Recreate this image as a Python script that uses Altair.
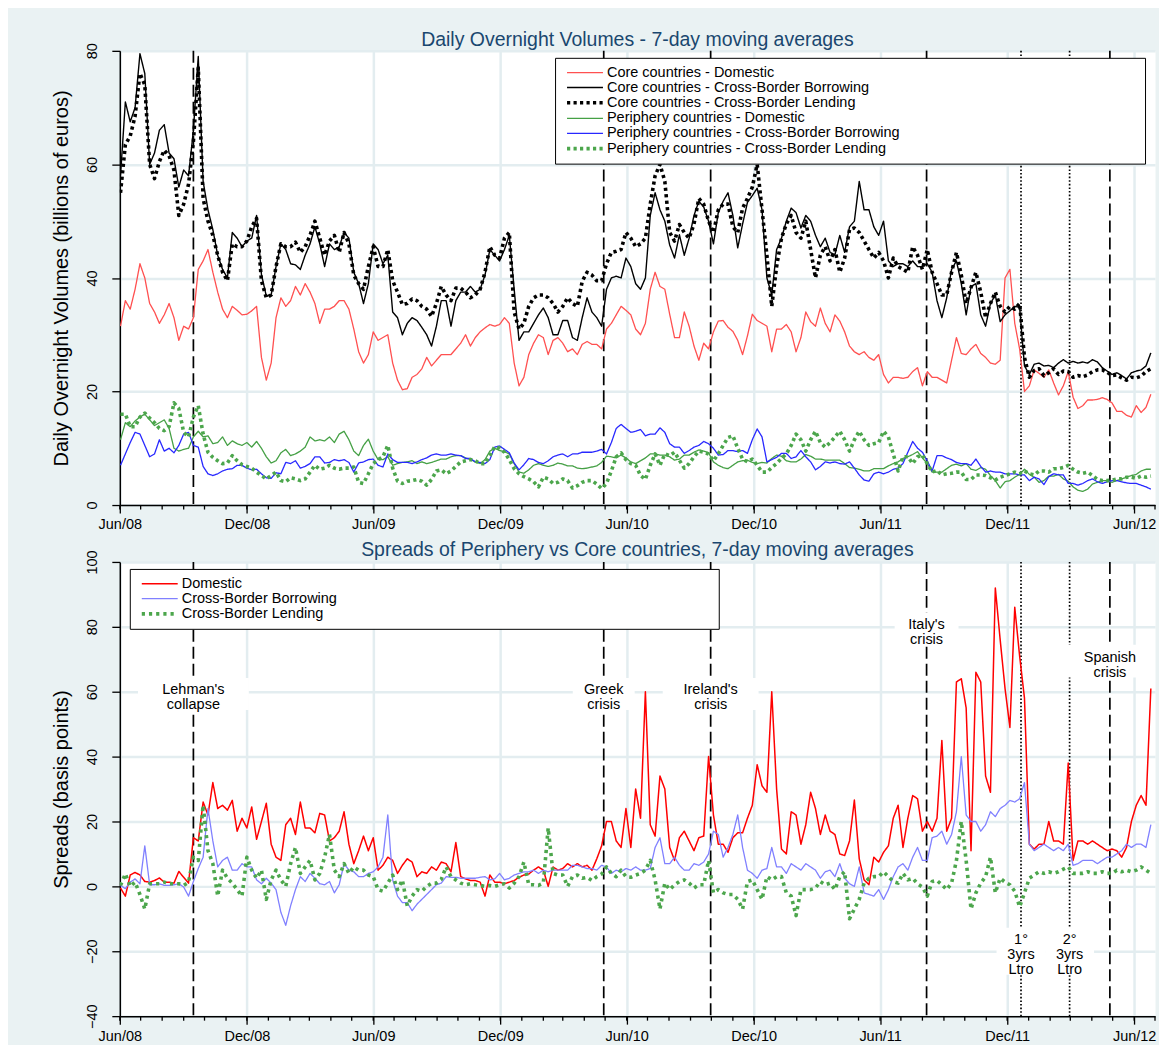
import altair as alt
import pandas as pd

# ---------------- data (weekly readings, first week 2008-06-02) ----------------
WEEK_START = "2008-06-02"
N_WEEKS = 213

CORE_DOM = [
    31.5, 36, 34.5, 38, 42.5, 40, 35.5, 34, 32, 33.5,
    35.5, 33, 29, 31.5, 31, 33, 41.5, 43, 45, 41,
    37.5, 34.5, 33, 35, 34.3, 33.5, 33.6, 34.2, 35, 26,
    22, 25, 33, 36.5, 35, 36, 38.5, 37, 39, 37.5,
    35.5, 32, 34.5, 34.5, 35, 36, 36, 34.5, 31, 27,
    25, 26.5, 30.5, 29, 29.5, 30, 25, 22, 20.3, 20.5,
    22.5, 23, 24, 26, 24.5, 25.5, 26.5, 26.5, 26.5, 27.5,
    28.5, 30, 28, 29.5, 30.5, 31.2, 31.8, 31.5, 31.8, 33,
    32, 25, 21, 22.5, 26.5, 28.5, 30, 29.5, 26.5, 29,
    29.5, 28.5, 27, 27.5, 26.5, 28.3, 28.8, 28.3, 28.3, 27.5,
    31, 32, 33.5, 35, 34.3, 33.5, 31, 30, 32, 38,
    41, 38.5, 38, 33.6, 29.5, 29.5, 34, 31.5, 28, 25.5,
    28.5, 27.5, 30.5, 32.4, 32.5, 31.3, 30.6, 29, 26.5, 29.8,
    33.6, 32.5, 32, 31.5, 27, 31, 31, 31.8, 30.5, 27,
    29.5, 34, 32.3, 31.5, 34.7, 32, 30.5, 33.5, 32.4, 30.5,
    28, 27, 26.5, 27, 26, 25.5, 26.5, 23, 21.5, 22.5,
    22.5, 22.3, 22.5, 23.5, 24.2, 21, 23.5, 22.5, 22.5, 22,
    21.5, 25.5, 29.5, 26.7, 26.5, 27.5, 28.3, 26.7, 26, 25,
    24.8, 25.5, 40, 41.5, 32, 27.5, 20, 21, 23.8, 23.2,
    22.5, 23.8, 21.5, 19.4, 21, 23.5, 19, 17, 17.5, 18.5,
    18.5, 18.6, 18.9, 18.6, 18, 16.5, 16.5, 15.8, 15.5, 17.5,
    16.3, 17.2, 19.5,
]
CORE_BOR = [
    58, 71, 67.5, 70, 79.5, 76, 60, 62, 66, 67,
    62, 61, 56, 59, 58, 66, 79, 57, 52, 48.5,
    44, 41.5, 40, 48, 47, 45.5, 46.5, 47, 51, 40.6,
    36.8, 37, 42, 46, 45, 42.5, 42.3, 41.5, 44, 46,
    49, 46, 42, 46, 45, 45.5, 48, 47, 41, 39,
    35.5, 39, 46, 45, 42.5, 44, 34, 33, 30, 32,
    33, 32.5, 31.3, 30, 28, 31.5, 36, 36, 31.5, 36,
    37.5, 37.5, 38.5, 37.5, 38, 40.5, 45, 44, 43, 45,
    47.5, 38, 29, 30.5, 30.5, 32, 33.5, 34.7, 33, 30,
    30, 32.5, 32.5, 29.5, 29, 33, 36.5, 34, 33, 31.5,
    38, 40, 40.3, 40, 43.5, 42, 39, 38, 40, 51,
    55, 52, 50, 45.8, 43.5, 47.6, 44, 47, 51, 53.5,
    52.5, 50, 46, 51.5, 53.5, 55, 51, 45.3, 49.5, 53.3,
    54.5, 55.8, 52, 40, 37, 45, 47, 50, 52.3, 51.5,
    48.8, 51, 50, 47.5, 45.5, 47, 44.5, 44.1, 47.5, 44.5,
    49, 50, 57, 52, 52, 49, 47.5, 50, 43, 42,
    42.5, 42.5, 42, 43, 42, 42, 42.5, 41, 36, 33,
    36.5, 41.5, 43, 39, 33.5, 38.5, 39, 33.5, 31.5, 35.5,
    37, 32.3, 33.5, 34.2, 35, 34.8, 24.5, 23, 24.8, 25,
    24.5, 24.6, 24.2, 25, 25.6, 25, 25.3, 25, 25.2, 25,
    25.6, 25.2, 24.2, 23.6, 23, 23.3, 22.8, 22.2, 23.3, 23.6,
    23.8, 24.5, 26.8,
]
CORE_LEND = [
    55, 63.5, 65, 68.5, 76, 74, 60, 57.5, 60.5, 62.5,
    61.5, 59, 51, 53, 56.5, 64, 77, 54, 50, 47.5,
    44, 41, 39.5, 46, 45.5, 45.5, 46.5, 49, 50.5, 39.5,
    36.5, 37, 42, 46, 45.5, 45.5, 46.3, 44.5, 45.5, 47.5,
    50, 47, 44, 46.5, 47.5, 44.5, 48, 46, 40.5, 39,
    38, 42, 45.5, 42, 42, 45, 39.5, 37.5, 35.3, 35.5,
    36.3, 36, 35, 34.5, 33.2, 35.5, 38.5, 37, 36, 38.2,
    38.2, 37.5, 36.5, 37, 38, 41, 45.5, 44, 43.5, 47,
    48, 34, 31, 32, 35, 36.5, 37, 37, 36.5, 35.5,
    34, 35, 36.5, 35.5, 35, 39.4, 41, 40.5, 39.5, 39.5,
    42.5, 44.5, 44.7, 45, 48, 47, 45.5, 46, 47, 53,
    58, 60, 57, 48, 46.5, 49.4, 48, 47, 49.5, 54,
    53, 50, 48, 52, 53, 53, 49, 48, 52.3, 54,
    56, 60, 52, 44, 35, 42, 47, 49.5, 51, 48,
    47, 50, 45, 40, 44, 45.5, 43, 45, 41, 43.5,
    48.5, 48.8, 48, 46.5, 45, 43.5, 44.5, 43, 40, 43.5,
    42, 41.5, 41, 45.5, 44, 41.5, 45, 41, 39, 37,
    37, 41, 44.5, 40.5, 35.5, 38.3, 41, 37.5, 33, 35.5,
    37.5, 35, 34, 35, 34.5, 35.5, 26, 22.5, 23.7, 24,
    22.8, 23.3, 24, 23, 23.6, 23.5, 22.5, 22.8, 22.6, 22.9,
    23.5, 23.8, 23.8, 23.4, 22.8, 22.9, 22.4, 22, 22.5, 22.4,
    22.7, 23.5, 24,
]
PER_DOM = [
    11.5, 14.5, 13.8, 14.8, 15.5, 16, 15, 14, 14.5, 15,
    13.5, 10, 9.5, 9.8, 10, 12, 13, 12, 12.2, 10.8,
    11, 12, 10.5, 11.3, 10.8, 10.5, 11, 10.2, 11.2, 10,
    8.5, 7.4, 7.8, 9.2, 9.8, 8.7, 9, 9.5, 10.2, 12,
    11.3, 11.5, 11.3, 12, 11, 12.5, 13, 11.5, 9.5, 8.7,
    10.5, 11.6, 9.5, 8, 8, 8.5, 7, 7.3, 7.5, 7.6,
    7.8, 7.3, 7.6, 7.3, 7.5, 7.8, 8.1, 8.1, 8.5, 8.7,
    8.7, 8.3, 8, 7.6, 7.3, 8, 9.5, 10, 9.6, 9.4,
    9, 7.3, 5.8, 5.6, 6.2, 7, 7.3, 7, 6.8, 7,
    7.4, 7.2, 6.9, 6.9, 6.5, 6.4, 6.5, 6.7, 6.9, 7.5,
    8.6, 8.5, 8.3, 8.8, 8.3, 7.6, 7.3, 7.8, 8.3, 9,
    9, 8.8, 8.8, 8.5, 7.9, 8.1, 8.8, 8.8, 9.3, 9.7,
    9.5, 9.2, 7.6, 7, 6.6, 6.4, 7, 7.6, 7.8, 7.9,
    7.5, 7.3, 7.5, 7.4, 8.2, 8.8, 8.6, 7.8, 7.6, 7.6,
    8.1, 8.9, 8.6, 8.1, 8.1, 7.9, 7.9, 7.9, 7.9, 7.3,
    6.6, 6.5, 6.3, 6, 6, 6.4, 6.4, 6.4, 6.9, 7.3,
    7.6, 8.2, 8.5, 8.9, 9.4, 8.3, 7.3, 5.8, 5.8, 5.8,
    6.4, 7, 7.2, 6.9, 7.3, 6.3, 6.1, 6.6, 6.3, 5.2,
    4.3, 3, 4.1, 4.3, 4.9, 5.4, 6.3, 5.4, 4.9, 4,
    4.3, 5.1, 5.1, 5.4, 4.6, 4.2, 3.2, 2.6, 2.4, 2.8,
    3.7, 4, 4.3, 4.3, 4, 4.3, 4.6, 4.9, 5.2, 5.4,
    6, 6.3, 6.3,
]
PER_BOR = [
    7, 9, 11, 12.8, 12.5, 10.5, 8.5, 9, 11.5, 9.5,
    10, 9.2, 10.5, 12.5, 12.8, 10.5, 10.2, 6.8, 5.5, 5.2,
    5.5, 6, 6.3, 6.4, 7, 7, 6.5, 6.2, 6.3, 5.5,
    4.8, 4.7, 5.7, 5.5, 7.5, 7.3, 7.8, 6.5, 6.8, 7.3,
    8.5, 8.5, 7.4, 7.5, 8, 7.8, 8, 7.5, 5.8, 7.4,
    7.6, 8, 8.1, 7, 6.7, 9, 8, 7.5, 7.5, 7.5,
    7.3, 7.6, 8, 8.3, 8.8, 9, 8.8, 8.8, 9, 8.8,
    8.7, 8.2, 8.2, 7.6, 7.5, 7.3, 8, 10.2, 10.4, 9.8,
    9.2, 7.4, 6.2, 7.1, 8.2, 8, 7.5, 7.3, 7.8, 8.5,
    8.8, 9, 8.5, 9, 9, 9.3, 9.3, 9.3, 9.5, 9.8,
    9, 11, 13.5, 14.2, 13.5, 12.8, 13, 13.3, 12.2, 12.5,
    12.5, 13.6, 12.8, 10.8, 10.2, 10.2, 9.1, 9.6, 10.2, 10.5,
    11.2, 10.8, 10, 8.8, 8.9, 9.6, 9.6, 9.4, 9.6, 9.1,
    11.5, 13.4, 12, 7.6, 8, 8.4, 9.1, 9.1, 8.2, 8.5,
    9.6, 8.5, 7.6, 6.2, 6.8, 7.6, 7.4, 7.6, 7.3, 7.2,
    7.6, 6.5, 5.3, 4.4, 4.2, 5.5, 5.8, 5.5, 5.8, 6.3,
    6.5, 7.3, 9.3, 11.2, 10, 9.3, 7.8, 6, 8.7, 8.7,
    8.3, 8, 7.5, 7.3, 7.3, 7, 8.1, 6.8, 5.8, 6,
    5.8, 5.8, 5.5, 5.5, 5.5, 5.3, 5.3, 4.3, 4.9, 4.6,
    3.6, 5, 5.5, 5.3, 5.3, 3.8, 3.8, 3.5, 3.8, 4.3,
    4.6, 4.1, 3.8, 4.1, 4.3, 4.3, 4.1, 3.9, 3.8, 3.8,
    3.5, 3.2, 2.8,
]
PER_LEND = [
    16, 16, 13.8, 13.8, 15.5, 16.2, 15.3, 14.5, 13.5, 13.1,
    13.8, 18, 17, 12.8, 12, 15.5, 17.5, 12.5, 9.3, 8.4,
    7.8, 7.3, 7.4, 8.7, 7.8, 7.1, 6.8, 6.5, 5.8, 5.2,
    4.6, 5.2, 5.8, 4.3, 4.1, 4.8, 4.6, 4.3, 4.6, 5.8,
    7, 6.3, 6.5, 7, 6.5, 6.3, 6.5, 6.5, 6.7, 4,
    3.8, 5.5, 7.3, 8, 8.5, 10.5, 6.5, 4.2, 3.8, 4.2,
    4.3, 4.5, 4.2, 3.5, 4.5, 6, 6.2, 5.5, 6, 6.8,
    7.6, 7.8, 8, 7.8, 7.3, 7.3, 8.7, 10.3, 10, 9.3,
    8, 6.4, 5.5, 5, 4.6, 4.1, 3.2, 4.9, 4.6, 3.8,
    4, 4.6, 4.3, 3, 3.4, 4, 4.3, 4.3, 3.7, 2.9,
    3.8, 6, 8.5, 9.2, 8, 7.3, 7, 5.2, 4.5, 7,
    9, 7, 9, 8.7, 9.3, 7.9, 6.5, 7.3, 8.5, 9.5,
    9.3, 9, 7.8, 9, 10.5, 11.9, 12.2, 10, 8.1, 7.6,
    8.1, 7, 5.8, 5.8, 6.6, 7.3, 8.2, 9, 10.5, 12.5,
    11.5, 9.5, 11.5, 13, 11, 10.2, 11, 12, 13, 11.5,
    9.5, 11.5, 13, 11.5, 10.5, 10.8, 11, 13, 12, 9,
    6, 8.5, 8.5, 7.3, 8.5, 8.8, 7.3, 5.8, 6.1, 5.3,
    5.5, 5.6, 5.8, 5.8, 4.5, 4.5, 5.3, 5.3, 5.2, 4.8,
    4.4, 4.9, 5.2, 5.5, 5.8, 5.5, 6, 5.5, 5.3, 6,
    6, 5.8, 6.4, 6.4, 6.6, 7, 6.3, 5.8, 5.6, 5.8,
    5.2, 4.5, 4.3, 4.3, 4.4, 4.6, 4.6, 4.9, 4.9, 4.7,
    5.1, 4.9, 5.1,
]
SPR_DOM = [
    -0.5, -3, 3.5, 4.3, 3.5, 1.5, 1.3, 1.8, 2.6, 1.3,
    1.3, 1, 4.6, 2.8, 1, 15, 14, 26, 22, 32,
    24, 25, 23.5, 26.5, 17, 21, 18, 24.5, 14.5, 20,
    25.6, 13, 9, 8, 19, 21, 16, 26, 18, 18,
    16.5, 22.5, 22, 14, 15, 17, 23, 13, 7, 11,
    15.5, 11, 15, 5, 6.5, 9, 8, 4, 6.5, 8.5,
    7.5, 3, 4.5, 4, 6, 5, 7.5, 7, 4.5, 13.5,
    3, 2.3, 1.8, 1.8, 1.3, -3, 3.5, 1.3, 1.3, 0.8,
    1.3, 1.8, 2.8, 3.5, 3.8, 5, 6, 5, 0, 6,
    5, 5.5, 7, 6, 7, 6, 6.5, 5, 8.5, 12.5,
    20, 20, 14, 12, 24, 12, 30, 21, 60, 19,
    15.5, 34, 30, 12, 8, 15, 17, 14, 11, 15,
    15.5, 40, 22, 13, 13, 10.5, 15, 16.5, 16.5, 21,
    25, 37.5, 31, 29, 60, 30, 11.5, 10, 23, 22,
    13, 19, 29, 24, 16, 22, 17, 16, 10, 9.5,
    14, 26.6, 8.5, 2, 0.5, 9, 7.5, 10.5, 12.5, 21,
    25, 12, 21, 28, 27, 17, 20, 17, 21, 45,
    17, 21, 63, 64, 55, 11, 66, 63, 34, 29,
    92, 76, 61, 49, 86, 71, 58, 13, 11.5, 13,
    13, 20, 14, 14, 13, 38, 8, 14, 14, 13,
    14, 13, 12, 11, 11.5, 11, 9, 12, 20, 25,
    28, 25, 61,
]
SPR_BOR = [
    0.3, -0.7, 1.3, 2.3, 0.8, 12.5, 0.5, 0.5, 0.8, 0.3,
    0.3, 0.5, 0.8, -0.2, -3, 1.5, 5.5, 9, 24, 14,
    6, 8, 9, 5, 5, 7, 6, 6, 2, 0.8,
    2.5, 1, -1, -8, -12, -6, -1, 3, 1.5, 4,
    2.5, 0.8, 0.5, 1.5, -2, 0.5, 7, 5, 4.5, 3,
    3, 4, 4.5, 6, 9, 22, 2, -3, -5, -5,
    -7.5, -5.5, -4, -2.5, -1, 0.5, 1, 3, 2.8, 2.8,
    2.5, 2.5, 2.5, 2.5, 2.8, 3, 2, 2.3, 4, 2,
    2.5, 3.5, 4, 4.5, 4.5, 5, 4, 5, 4.5, 5,
    5, 5, 5, 6.5, 6.5, 6, 5.5, 5.5, 5, 6.5,
    6, 4, 5, 4.5, 5.5, 5, 6, 5, 5, 5.5,
    12, 15, 7, 7, 9, 6.5, 5, 5, 7, 6.5,
    7.5, 10, 17, 16, 9, 12, 16, 22, 12, 5,
    4, 2.5, 5, 5.5, 12, 6, 6, 4, 7, 6,
    5, 7, 6, 5, 2.5, 4.5, 5, 3, 7, 2.5,
    0.8, 0, 6, -2, -2.5, -3, -1, -4, -1, 3,
    6, 7, 5, 9, 12, 8, 8, 15, 15.5, 17,
    13, 16, 23, 40, 22, 20, 20, 17, 19, 23,
    21.5, 24, 25, 26.5, 26, 27, 32, 13, 11, 12,
    13, 12, 11, 12, 11, 13, 6.5, 7, 8, 8,
    8, 7, 8, 9, 9, 10, 11, 13, 12, 13,
    13, 12, 19,
]
SPR_LEND = [
    0.3, 3.9, 0, 1.3, -2.5, -7, 0.8, 0.8, 0.8, 1.3,
    0.8, 0.8, 0.8, 0.3, 1.3, 9, 8, 25, 11, 7,
    -3, 5, 2.5, 1, -1, -3, 9, 5, 2.5, 5,
    -4, 2, 5, 2, 0, 7, 12, 4, 6, 8,
    2, 4, 9, 16, 5, 3, 7, 4, 6, 5,
    5, 3.5, 3, -1, -1.5, 1, 3.5, -1, 2, -6,
    -3, -1, -1.5, 0, 1, 1, 2.2, 6, 3, 2,
    1, 0.5, 0.8, 0.5, 0.3, 0, 0.3, 0, 0.5, 0.8,
    -0.5, 1, 3, 7.5, 0.5, 0.5, 0.3, 1, 18, 4,
    3.5, 3.5, 0, 3, 3.5, 2.5, 2.8, 1.8, 3, 3.8,
    6, 4, 3, 5, 3, 2.8, 3.5, 4, 5, 8,
    2, -7, 1, -1, 0.5, 1.5, 2, 1, -0.5, 0.5,
    0.5, 8, -2, -1, -2, -2.5, -2.5, -4, -7, 1.5,
    2, -1, -4, 3, 2, 3, 3, -2, -3, -9,
    -1, -1, -1, -0.5, 1.5, 0.5, 1, -1, 3, 4.5,
    -10, -7, -4, 1, 2.5, 3, 3, 4.5, 3, 1.5,
    1, 4, 2, 2.5, 0.8, -0.2, -3, 1.5, 1.8, 0.5,
    -1, 1, 8, 20, 8, -7, -2, 1, 3, 9,
    -2, 2.5, 1.3, 0.5, -1.5, -6.3, -2, 2.5, 3.5, 4.5,
    4, 4.5, 4, 4.5, 5.3, 6, 4, 4, 4, 4.5,
    4, 4, 4.5, 4, 4, 5, 4.5, 5, 4.5, 5,
    6, 5, 4,
]

TOP_NAMES = [
    "Core countries - Domestic",
    "Core countries - Cross-Border Borrowing",
    "Core countries - Cross-Border Lending",
    "Periphery countries - Domestic",
    "Periphery countries - Cross-Border Borrowing",
    "Periphery countries - Cross-Border Lending",
]
BOT_NAMES = ["Domestic", "Cross-Border Borrowing", "Cross-Border Lending"]

EVENT_DATES = ["2008-09-15", "2010-04-29", "2010-09-30", "2011-08-07",
               "2011-12-21", "2012-02-29", "2012-04-27"]
EVENT_KIND = ["dash", "dash", "dash", "dash", "dot", "dot", "dash"]
EVENT_LABELS = ["Lehman's\ncollapse", "Greek\ncrisis", "Ireland's\ncrisis", "Italy's\ncrisis",
                "1°\n3yrs\nLtro", "2°\n3yrs\nLtro", "Spanish\ncrisis"]
# y position (basis points) of the first line of each event label
EVENT_LABEL_Y = [60.4, 60.4, 60.4, 80.5, -16.6, -16.6, 70.5]

MAJOR_TICKS = ["2008-06-01", "2008-12-01", "2009-06-01", "2009-12-01", "2010-06-01",
               "2010-12-01", "2011-06-01", "2011-12-01", "2012-06-01"]
X_DOMAIN = ["2008-06-01", "2012-07-01"]

for arr in [CORE_DOM, CORE_BOR, CORE_LEND, PER_DOM, PER_BOR, PER_LEND, SPR_DOM, SPR_BOR, SPR_LEND]:
    assert len(arr) == N_WEEKS, len(arr)

# ---------------- styles ----------------
BG = "#EAF2F3"
GRID = "#E3EDF0"
TITLE_COLOR = "#1A476F"
FONT = "Liberation Sans"
FS = 14.5
LINE_H = 15

TOP_COLORS = ["#FF5050", "#000000", "#000000", "#45A045", "#2828FF", "#4CA64C"]
TOP_DASH = [[1, 0], [1, 0], [3.2, 3.3], [1, 0], [1, 0], [3.2, 3.3]]
TOP_WIDTH = [1.3, 1.4, 3.6, 1.3, 1.3, 3.6]
BOT_COLORS = ["#FF0000", "#8080FF", "#4CA64C"]
BOT_DASH = [[1, 0], [1, 0], [3.2, 4.0]]
BOT_WIDTH = [1.5, 1.3, 3.6]

# white background boxes behind the event labels (pixel sizes)
BOX_W = [111, 62, 96, 64, 49, 49, 90]
BOX_H = [32, 32, 32, 32, 47, 47, 33]

PLOT_W, PLOT_H = 1037, 455


def dt(s):
    return alt.DateTime(year=int(s[:4]), month=int(s[5:7]), date=int(s[8:10]), utc=True)


X_SCALE = alt.Scale(type="utc", domain=[dt(X_DOMAIN[0]), dt(X_DOMAIN[1])])

dates = pd.date_range(WEEK_START, periods=N_WEEKS, freq="7D").strftime("%Y-%m-%d").tolist()
minor_df = pd.DataFrame({"date": pd.date_range(X_DOMAIN[0], X_DOMAIN[1], freq="MS").strftime("%Y-%m-%d")})


def long_df(names, arrays):
    rows = []
    for name, vals in zip(names, arrays):
        for d, v in zip(dates, vals):
            rows.append({"date": d, "value": v, "series": name})
    return pd.DataFrame(rows)


top_df = long_df(TOP_NAMES, [CORE_DOM, CORE_BOR, CORE_LEND, PER_DOM, PER_BOR, PER_LEND])
bot_df = long_df(BOT_NAMES, [SPR_DOM, SPR_BOR, SPR_LEND])
ev_df = pd.DataFrame({"idx": list(range(len(EVENT_DATES))), "date": EVENT_DATES, "kind": EVENT_KIND,
                      "label": EVENT_LABELS, "value": EVENT_LABEL_Y})


def legend(x, y, n_pad):
    pad = "\u00a0" * n_pad + "\u200b"
    return alt.Legend(
        title=None, orient="none", legendX=x, legendY=y, direction="vertical",
        fillColor="white", strokeColor="black", padding=7.5,
        symbolType="M-0.545,0H6", symbolSize=121, labelOffset=29.5,
        labelFontSize=FS, labelFont=FONT, labelColor="black", labelLimit=1000,
        rowPadding=0, labelExpr="datum.label + '" + pad + "'",
    )


def panel(df, names, colors, dashes, widths, ydom, yvals, ytitle, title, title_offset,
          lx, ly, n_pad, annotate):
    xenc = alt.X("date:T", scale=X_SCALE, title="")
    yscale = alt.Scale(domain=ydom, nice=False, zero=False)
    yenc = alt.Y("value:Q", scale=yscale, title=ytitle)
    leg = legend(lx, ly, n_pad)

    x_axis = alt.Axis(values=[dt(s) for s in MAJOR_TICKS], format="%b/%y", tickSize=8,
                      labelPadding=5, labelFlush=False, labelOverlap=False, grid=True)
    y_axis = alt.Axis(values=yvals, labelAngle=270, labelAlign="center", labelBaseline="bottom",
                      labelPadding=12, tickSize=8, grid=True, labelOverlap=False, titlePadding=13)

    dashed = alt.Chart(ev_df).transform_filter(alt.datum.kind == "dash").mark_rule(
        color="black", strokeWidth=1.7, strokeDash=[12, 5]).encode(x=xenc)
    dotted = alt.Chart(ev_df).transform_filter(alt.datum.kind == "dot").mark_rule(
        color="black", strokeWidth=1.7, strokeDash=[1.6, 2]).encode(x=xenc)
    minor = alt.Chart(minor_df).mark_rule(color="black", strokeWidth=1.3).encode(
        x=xenc, y=alt.value(PLOT_H), y2=alt.value(PLOT_H + 4.5))
    lines = alt.Chart(df).mark_line(strokeJoin="round", clip=True).encode(
        x=alt.X("date:T", scale=X_SCALE, title="", axis=x_axis),
        y=alt.Y("value:Q", scale=yscale, title=ytitle, axis=y_axis),
        color=alt.Color("series:O", scale=alt.Scale(type="ordinal", domain=names, range=colors), legend=leg),
        strokeDash=alt.StrokeDash("series:O", scale=alt.Scale(type="ordinal", domain=names, range=dashes),
                                  legend=leg),
        strokeWidth=alt.StrokeWidth("series:O", scale=alt.Scale(type="ordinal", domain=names, range=widths),
                                    legend=leg),
    )
    layers = [dashed, dotted, minor]
    if annotate:
        for i, (w, h) in enumerate(zip(BOX_W, BOX_H)):
            n_lines = EVENT_LABELS[i].count("\n") + 1
            shift = (n_lines - 1) * LINE_H / 2 - 4  # centre of the text block below its first line
            box = alt.Chart(ev_df).transform_filter(alt.datum.idx == i).mark_rect(
                fill="white", opacity=1, xOffset=-w / 2, x2Offset=w / 2,
                yOffset=-h / 2 + shift, y2Offset=h / 2 + shift,
            ).encode(x=xenc, x2=alt.X2("date:T"), y=yenc, y2=alt.Y2("value:Q"))
            layers.append(box)
    layers.append(lines)
    if annotate:
        texts = alt.Chart(ev_df).mark_text(lineBreak="\n", fontSize=FS, lineHeight=LINE_H, color="black",
                                           align="center", baseline="middle", font=FONT).encode(
            x=xenc, y=yenc, text="label:N")
        layers.append(texts)
    return alt.layer(*layers).properties(
        width=PLOT_W, height=PLOT_H,
        title=alt.Title(title, fontSize=19.5, font=FONT, color=TITLE_COLOR, fontWeight="normal",
                        anchor="middle", frame="group", offset=title_offset, baseline="bottom"),
    )


top = panel(top_df, TOP_NAMES, TOP_COLORS, TOP_DASH, TOP_WIDTH, [0, 80], [0, 20, 40, 60, 80],
            "Daily Overnight Volumes (billions of euros)",
            "Daily Overnight Volumes - 7-day moving averages", -27, 436, 7, 59, False)
bottom = panel(bot_df, BOT_NAMES, BOT_COLORS, BOT_DASH, BOT_WIDTH, [-40, 100],
               [-40, -20, 0, 20, 40, 60, 80, 100], "Spreads (basis points)",
               "Spreads of Periphery vs Core countries, 7-day moving averages", -30, 10, 7, 93, True)

chart = alt.vconcat(top, bottom, spacing=57, bounds="flush").resolve_scale(
    x="independent", y="independent", color="independent", strokeDash="independent",
    strokeWidth="independent",
).properties(
    padding={"left": 43, "top": 20, "right": 2, "bottom": 1},
).configure(
    background=BG, font=FONT,
).configure_view(
    fill="white", stroke="transparent",
).configure_axis(
    domainColor="black", domainWidth=1.5, tickColor="black", tickWidth=1.3,
    labelFont=FONT, labelFontSize=FS, labelColor="black",
    titleFont=FONT, titleFontSize=20, titleFontWeight="normal", titleColor="black",
    gridColor=GRID, gridWidth=2.5,
)

chart.save("out.html", embed_options={"renderer": "svg", "actions": False})
